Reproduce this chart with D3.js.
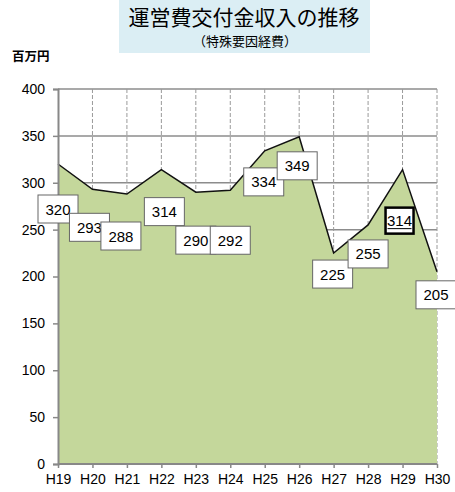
<!DOCTYPE html>
<html>
<head>
<meta charset="utf-8">
<script src="https://cdn.jsdelivr.net/npm/d3@7"></script>
<style>
  body { margin: 0; background: #fff; }
  svg { font-family: "Noto Sans CJK JP", "Noto Sans", sans-serif; }
</style>
</head>
<body>
<svg width="455" height="492"></svg>
<script>
// データ
const years = ["H19", "H20", "H21", "H22", "H23", "H24", "H25", "H26", "H27", "H28", "H29", "H30"];
const values = [320, 293, 288, 314, 290, 292, 334, 349, 225, 255, 314, 205];
const yTicks = [0, 50, 100, 150, 200, 250, 300, 350, 400];
// ラベルの位置ずらし (px)
const labelDx = [0, -3, -6, 3, 0, 0, -1, -2, -1, 0, -3, -1];
const labelDy = [45, 38, 42, 42, 48, 50, 31, 29, 21, 29, 51, 23];

const svg = d3.select("svg");
const area = { left: 58, right: 437, top: 89, bottom: 464 };
const numFont = "\"Liberation Sans\", Arial, sans-serif";

// タイトル
svg.append("rect")
    .attr("x", 119).attr("y", 0).attr("width", 251).attr("height", 53)
    .style("fill", "#dbeef4");
svg.append("text")
    .attr("x", 244).attr("y", 25)
    .attr("text-anchor", "middle")
    .style("font-size", "21px").style("font-weight", "400")
    .text("運営費交付金収入の推移");
svg.append("text")
    .attr("x", 245).attr("y", 46)
    .attr("text-anchor", "middle")
    .style("font-size", "13px").style("font-weight", "400")
    .text("（特殊要因経費）");
svg.append("text")
    .attr("x", 12).attr("y", 61)
    .style("font-size", "12.5px").style("font-weight", "700")
    .text("百万円");

// スケール
const scX = d3.scalePoint().domain(years).range([area.left, area.right]);
const scY = d3.scaleLinear().domain([0, 400]).range([area.bottom, area.top]);

// グリッド
svg.append("g").selectAll("line.h")
    .data(yTicks.filter(d => d > 0))
    .enter().append("line")
    .attr("x1", area.left).attr("x2", area.right)
    .attr("y1", d => scY(d)).attr("y2", d => scY(d))
    .style("stroke", "#8c8c8c").style("stroke-width", 1.5);
svg.append("g").selectAll("line.v")
    .data(years.slice(1))
    .enter().append("line")
    .attr("x1", d => scX(d)).attr("x2", d => scX(d))
    .attr("y1", area.top).attr("y2", area.bottom)
    .style("stroke", "#9a9a9a").style("stroke-width", 1)
    .style("stroke-dasharray", "4,2");

// 面グラフ
const data = years.map((y, i) => ({ year: y, value: values[i] }));
svg.append("path")
    .datum(data)
    .attr("d", d3.area().x(d => scX(d.year)).y0(scY(0)).y1(d => scY(d.value)))
    .style("fill", "#c4d79b");
svg.append("path")
    .datum(data)
    .attr("d", d3.line().x(d => scX(d.year)).y(d => scY(d.value)))
    .style("fill", "none").style("stroke", "#111").style("stroke-width", 1.5);

// 軸
const axisY = svg.append("g")
    .attr("transform", `translate(${area.left},0)`)
    .call(d3.axisLeft(scY).tickValues(yTicks).tickSizeOuter(0).tickSize(5).tickPadding(8));
const axisX = svg.append("g")
    .attr("transform", `translate(0,${area.bottom})`)
    .call(d3.axisBottom(scX).tickSizeOuter(0).tickSize(4).tickPadding(6));
[axisY, axisX].forEach(g => {
    g.select(".domain").style("stroke", "#888").style("stroke-width", 2);
    g.selectAll(".tick line").style("stroke", "#888").style("stroke-width", 1.5);
    g.selectAll("text").style("font-size", "14px").style("fill", "#000")
        .style("font-family", numFont);
});
axisX.select(".domain").attr("d", `M${area.left},0H${area.right}`);

// データラベル
const labels = svg.append("g").selectAll("g")
    .data(data)
    .enter().append("g")
    .attr("transform", (d, i) => `translate(${scX(d.year) + labelDx[i]},${scY(d.value) + labelDy[i]})`);
labels.append("rect")
    .attr("x", (d, i) => i == 10 ? -14 : -20)
    .attr("y", (d, i) => i == 10 ? -13 : -14)
    .attr("width", (d, i) => i == 10 ? 28 : 40)
    .attr("height", (d, i) => i == 10 ? 26 : 28)
    .style("fill", "#fff")
    .style("stroke", (d, i) => i == 10 ? "#000" : "#666")
    .style("stroke-width", (d, i) => i == 10 ? 2.5 : 1);
labels.append("text")
    .attr("text-anchor", "middle")
    .attr("y", 5.5)
    .style("font-size", "15px")
    .style("font-family", numFont)
    .text(d => d.value);
// 選択中ラベルの下線
labels.filter((d, i) => i == 10).append("line")
    .attr("x1", -12).attr("x2", 12).attr("y1", 8).attr("y2", 8)
    .style("stroke", "#000").style("stroke-width", 1);
</script>
</body>
</html>
